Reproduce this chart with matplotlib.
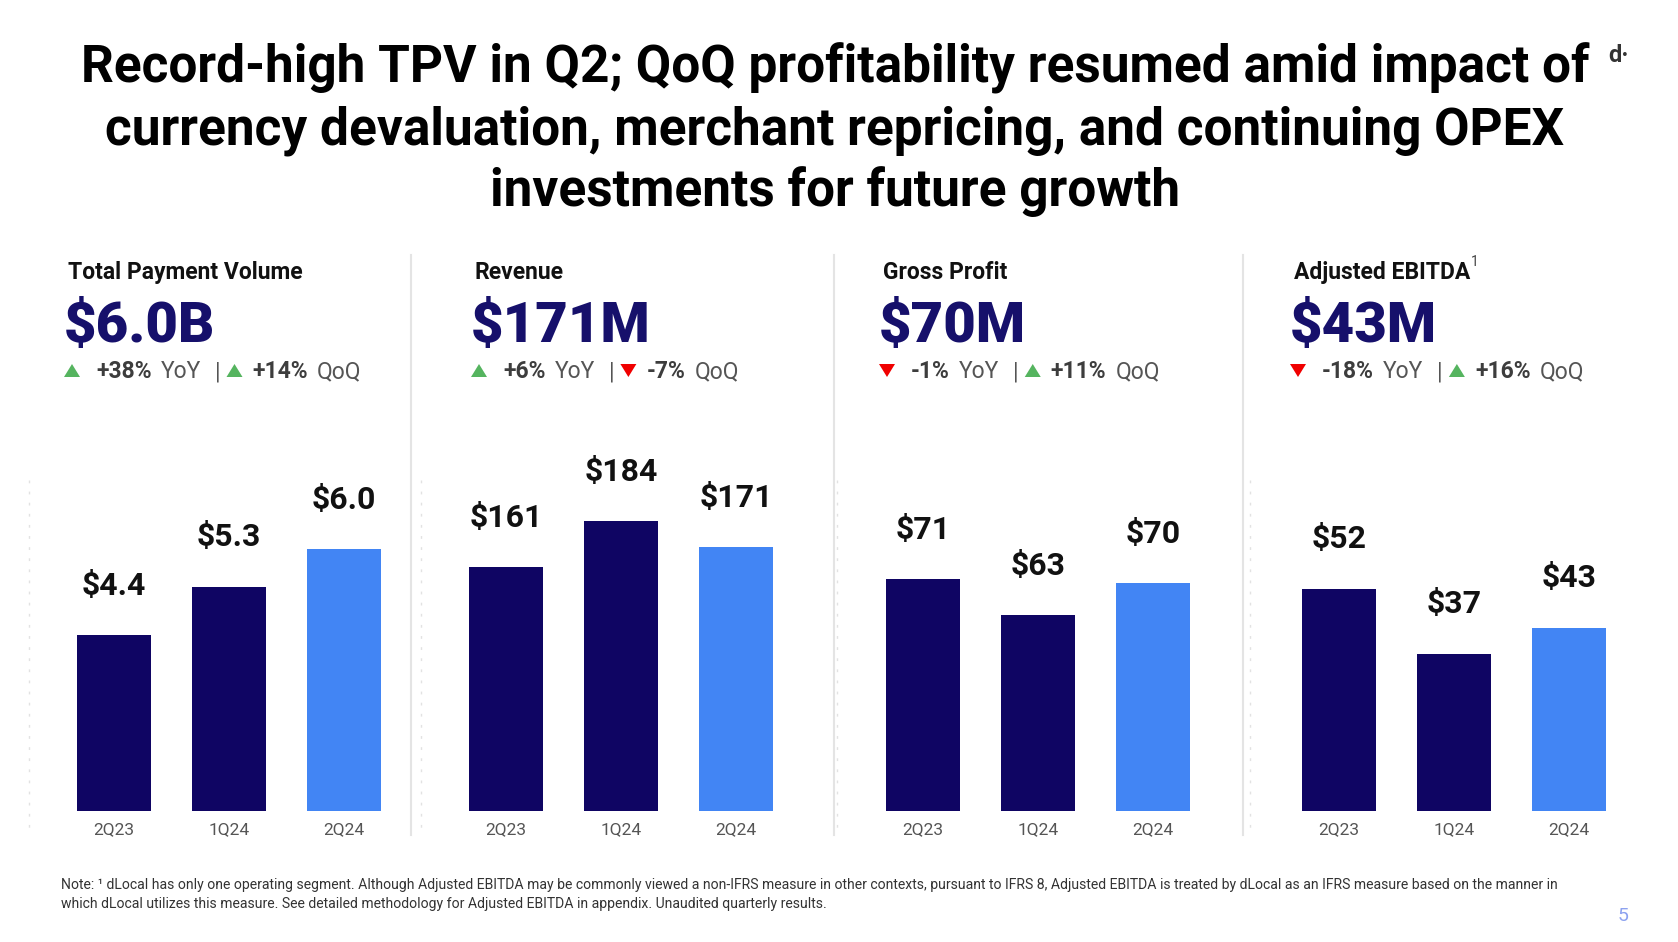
import matplotlib
matplotlib.use('Agg')
import matplotlib.pyplot as plt
from matplotlib.patches import Polygon
from matplotlib.lines import Line2D

# data
quarters = ['2Q23', '1Q24', '2Q24']
tpv = [4.4, 5.3, 6.0]
revenue = [161, 184, 171]
gross_profit = [71, 63, 70]
ebitda = [52, 37, 43]

titles = ['Total Payment Volume', 'Revenue', 'Gross Profit', 'Adjusted EBITDA']
headlines = ['$6.0B', '$171M', '$70M', '$43M']
yoy = ['+38%', '+6%', '-1%', '-18%']
qoq = ['+14%', '-7%', '+11%', '+16%']
label_fmt = ['${:.1f}', '${:.0f}', '${:.0f}', '${:.0f}']

title_lines = ['Record-high TPV in Q2; QoQ profitability resumed amid impact of',
               'currency devaluation, merchant repricing, and continuing OPEX',
               'investments for future growth']
note_lines = ['Note: \u00b9 dLocal has only one operating segment. Although Adjusted EBITDA may be commonly viewed a non-IFRS measure in other contexts, pursuant to IFRS 8, Adjusted EBITDA is treated by dLocal as an IFRS measure based on the manner in',
              'which dLocal utilizes this measure. See detailed methodology for Adjusted EBITDA in appendix. Unaudited quarterly results.']

NAVY = '#0f0563'
BLUE = '#4285f4'
BIGNUM = '#16106b'
GREEN = '#55b45f'
RED = '#f00000'

W, H = 1678, 942
plt.rcParams['font.family'] = ['Roboto', 'DejaVu Sans']

fig = plt.figure(figsize=(W / 100, H / 100), dpi=100)
fig.patch.set_facecolor('white')


def fx(x):
    return x / W


def fy(y):
    return 1 - y / H


# title
for i, line in enumerate(title_lines):
    fig.text(fx(835), fy(82 + 62 * i), line, ha='center', va='baseline',
             fontsize=37, fontweight='bold', color='#000000')
fig.text(fx(1608), fy(62), 'd\u00b7', ha='left', va='baseline', fontsize=17,
         fontweight='bold', color='#333333')

series = [tpv, revenue, gross_profit, ebitda]
ax_left = [45, 437, 854, 1270]
head_x = [68, 475, 883, 1294]
ylims = [(1.126, 8.196), (39, 229), (19.4, 103.9), (0.7, 88.4)]
dividers = [411, 834, 1243]
faint = [29, 421, 837, 1250]

for xd in dividers:
    fig.add_artist(Line2D([fx(xd), fx(xd)], [fy(255), fy(835)], color='#e4e4e4', lw=1.5))
for xd in faint:
    fig.add_artist(Line2D([fx(xd), fx(xd)], [fy(480), fy(830)], color='#e2e2e2',
                          lw=1, ls=(0, (2, 6))))

fig.canvas.draw()
renderer = fig.canvas.get_renderer()


def tri(x, base_y, up, color):
    # x, base_y in px (top-left origin); triangle 16 wide, 13 high
    if up:
        pts = [(x, base_y), (x + 16, base_y), (x + 8, base_y - 13)]
    else:
        pts = [(x, base_y - 13), (x + 16, base_y - 13), (x + 8, base_y)]
    fig.add_artist(Polygon([(fx(a), fy(b)) for a, b in pts], closed=True,
                           transform=fig.transFigure, color=color, lw=0))
    return x + 16


def put(x, y, s, **kw):
    t = fig.text(fx(x), fy(y), s, ha='left', va='baseline', **kw)
    bb = t.get_window_extent(renderer)
    return bb.x1


for k in range(4):
    ax = fig.add_axes([fx(ax_left[k]), fy(811), 368 / W, 380 / H])
    vals = series[k]
    colors = [NAVY, NAVY, BLUE]
    ax.bar(range(3), vals, width=0.645, color=colors)
    ax.set_xlim(-0.6, 2.6)
    ax.set_ylim(*ylims[k])
    for i, v in enumerate(vals):
        ax.annotate(label_fmt[k].format(v), xy=(i, v), xytext=(0, 29),
                    textcoords='offset points', ha='center', va='baseline',
                    fontsize=23, fontweight='bold', color='#111111')
    ax.set_xticks(range(3))
    ax.set_xticklabels(quarters, fontsize=12.5, color='#555555')
    ax.tick_params(length=0, pad=8)
    ax.set_yticks([])
    for s in ax.spines.values():
        s.set_visible(False)
    ax.patch.set_alpha(0)

    hx = head_x[k]
    end = put(hx, 279, titles[k], fontsize=16.5, fontweight='bold', color='#111111')
    if k == 3:
        put(end + 1, 266, '1', fontsize=10, color='#444444')
    put(hx - 4, 342, headlines[k], fontsize=40.5, fontweight='heavy', color=BIGNUM)

    # change line
    x = hx - 4
    up = yoy[k].startswith('+')
    x = tri(x, 377, up, GREEN if up else RED) + 16
    x = put(x, 378, yoy[k], fontsize=16.5, fontweight='bold', color='#3d3d3d') + 9
    x = put(x, 378, 'YoY', fontsize=16.5, color='#555555') + 14
    x = put(x, 378, '|', fontsize=16.5, color='#555555') + 6
    up = qoq[k].startswith('+')
    x = tri(x, 377, up, GREEN if up else RED) + 10
    x = put(x, 378, qoq[k], fontsize=16.5, fontweight='bold', color='#3d3d3d') + 9
    put(x, 378, 'QoQ', fontsize=16.5, color='#555555')

# footnote
for i, line in enumerate(note_lines):
    fig.text(fx(61), fy(889 + 19 * i), line, ha='left', va='baseline',
             fontsize=10.05, color='#333333')
fig.text(fx(1623), fy(921), '5', ha='center', va='baseline', fontsize=14,
         color='#8da2f0')

fig.savefig('out.png', dpi=100)
